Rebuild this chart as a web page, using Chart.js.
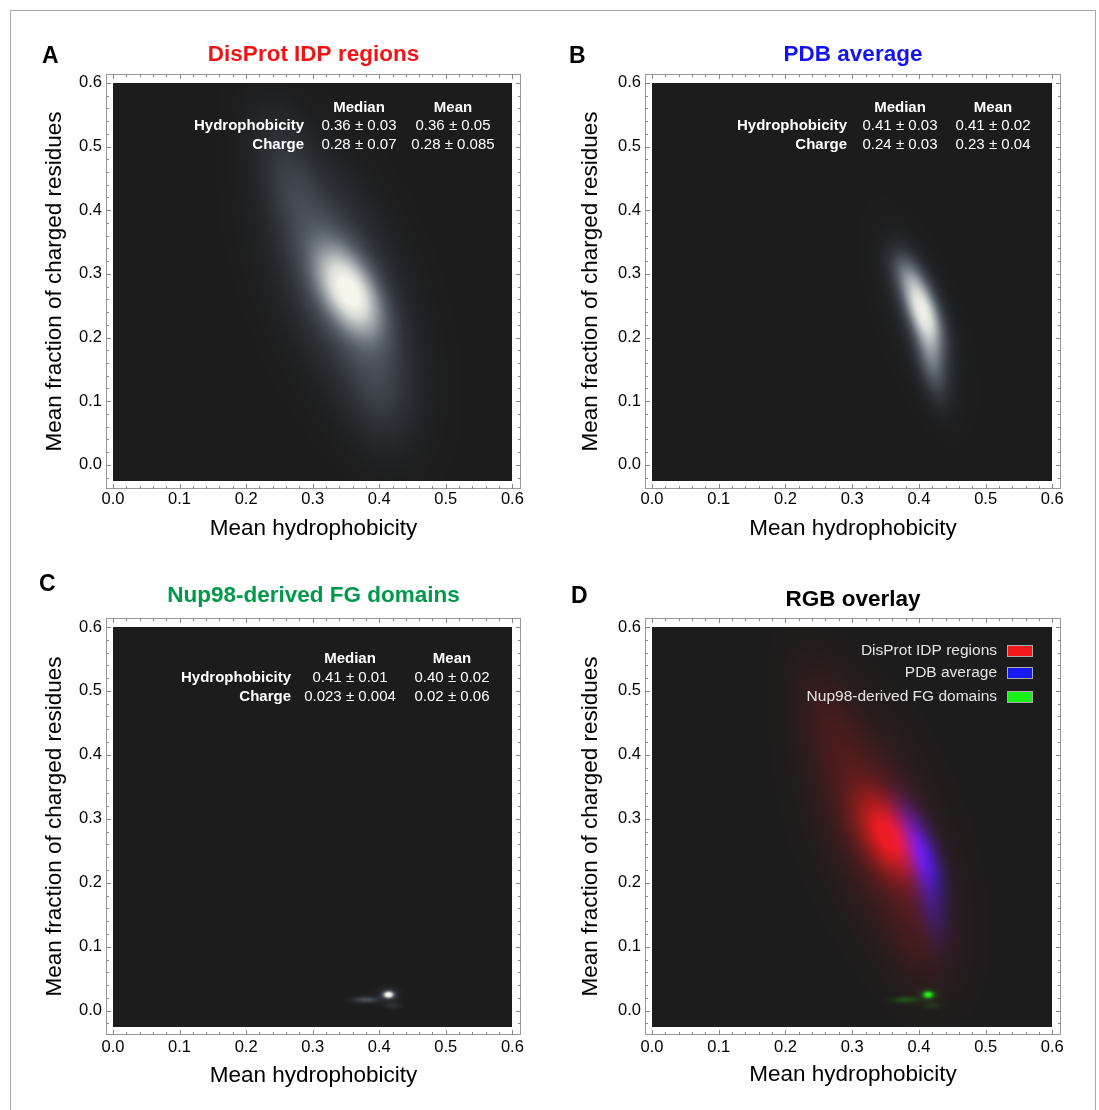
<!DOCTYPE html>
<html>
<head>
<meta charset="utf-8">
<script src="https://cdn.jsdelivr.net/npm/chart.js@4.4.0/dist/chart.umd.min.js"></script>
<style>
  body { margin: 0; background: #fff; }
  #fig { position: relative; width: 1099px; height: 1110px; overflow: hidden; }
  #border { position: absolute; left: 10px; top: 10px; width: 1084px; height: 1130px; border: 1px solid #aaa; }
  .panel { position: absolute; }
  .tag { position: absolute; font: bold 23px 'Liberation Sans', Arial, sans-serif; line-height: 23px; color: #000; }
</style>
</head>
<body>
<div id="fig">
  <div id="border"></div>
  <div class="panel" style="left:0;top:0"><canvas id="cA" width="550" height="560"></canvas></div>
  <div class="panel" style="left:550px;top:0"><canvas id="cB" width="549" height="560"></canvas></div>
  <div class="panel" style="left:0;top:560px"><canvas id="cC" width="550" height="550"></canvas></div>
  <div class="panel" style="left:550px;top:560px"><canvas id="cD" width="549" height="550"></canvas></div>
  <div class="tag" style="left:42px;top:44px">A</div>
  <div class="tag" style="left:569px;top:44px">B</div>
  <div class="tag" style="left:39px;top:572px">C</div>
  <div class="tag" style="left:571px;top:584px">D</div>
</div>
<script>
// tick labels on both axes
var xTicks = [0, 0.1, 0.2, 0.3, 0.4, 0.5, 0.6];
var yTicks = [0, 0.1, 0.2, 0.3, 0.4, 0.5, 0.6];

// density blobs: [x, y, sd x, sd y, correlation, weight]
var disprotBlobs = [
    [0.355, 0.272, 0.032, 0.045, -0.50, 0.80], // bright core
    [0.340, 0.285, 0.060, 0.110, -0.50, 0.28], // halo
    [0.265, 0.450, 0.035, 0.070, -0.50, 0.12], // upper tail
    [0.400, 0.120, 0.035, 0.060, -0.20, 0.12]  // lower tail
];
var pdbBlobs = [
    [0.405, 0.245, 0.020, 0.040, -0.60, 0.85],
    [0.418, 0.165, 0.016, 0.040, -0.50, 0.32],
    [0.378, 0.305, 0.018, 0.025, -0.40, 0.15],
    [0.400, 0.230, 0.035, 0.075, -0.60, 0.07]
];
var nupBlobs = [
    [0.414, 0.025, 0.0050, 0.0035, 0, 1.00], // bright spot
    [0.414, 0.025, 0.0100, 0.0070, 0, 0.15], // its glow
    [0.380, 0.017, 0.0130, 0.0035, 0, 0.25], // streak to the left
    [0.420, 0.008, 0.0080, 0.0035, 0, 0.12]  // faint spot below
];

// stats tables
var statCols = ['Median', 'Mean'];
var statRows = ['Hydrophobicity', 'Charge'];
var disprotStats = [['0.36 \u00b1 0.03', '0.36 \u00b1 0.05'], ['0.28 \u00b1 0.07', '0.28 \u00b1 0.085']];
var pdbStats = [['0.41 \u00b1 0.03', '0.41 \u00b1 0.02'], ['0.24 \u00b1 0.03', '0.23 \u00b1 0.04']];
var nupStats = [['0.41 \u00b1 0.01', '0.40 \u00b1 0.02'], ['0.023 \u00b1 0.004', '0.02 \u00b1 0.06']];
var seriesNames = ['DisProt IDP regions', 'PDB average', 'Nup98-derived FG domains'];

var FONT = "'Liberation Sans', Arial, Helvetica, sans-serif";
var plotX = [0, 0.6];      // extent of the density image
var plotY = [-0.025, 0.6];
var bg = [28, 28, 28];
var grayStops = [
    [0, 28, 28, 28], [0.12, 46, 50, 56], [0.32, 86, 94, 103],
    [0.55, 150, 157, 162], [0.8, 214, 217, 213], [1, 246, 245, 236]
];
var swatchColors = ['#f01818', '#1818f0', '#18f018']; // legend order: red, blue, green

function prep(b) {
    return { mx: b[0], my: b[1], sx: b[2], sy: b[3], r: b[4], w: b[5], k: 1 / (1 - b[4] * b[4]) };
}

function field(blobs, x, y) {
    var f = 0;
    for (var i = 0; i < blobs.length; i++) {
        var b = blobs[i];
        var u = (x - b.mx) / b.sx, v = (y - b.my) / b.sy;
        f += b.w * Math.exp(-0.5 * b.k * (u * u - 2 * b.r * u * v + v * v));
    }
    return f;
}

function grayMap(v) {
    v = Math.max(0, Math.min(1, v));
    for (var i = 1; i < grayStops.length; i++) {
        var a = grayStops[i - 1], b = grayStops[i];
        if (v <= b[0]) {
            var t = (v - a[0]) / (b[0] - a[0]);
            return [a[1] + t * (b[1] - a[1]), a[2] + t * (b[2] - a[2]), a[3] + t * (b[3] - a[3])];
        }
    }
    return grayStops[grayStops.length - 1].slice(1);
}

// draws the density image, the frame with inward ticks, and the text boxes
function densityPlugin(p) {
    return {
        id: 'density',
        beforeDatasetsDraw: function (chart) {
            var ctx = chart.ctx, a = chart.chartArea;
            var xs = chart.scales.x, ys = chart.scales.y;
            ctx.save();
            ctx.fillStyle = '#fff';
            ctx.fillRect(a.left, a.top, a.right - a.left, a.bottom - a.top);

            var x0 = Math.round(xs.getPixelForValue(plotX[0]));
            var x1 = Math.round(xs.getPixelForValue(plotX[1]));
            var y0 = Math.round(ys.getPixelForValue(plotY[1]));
            var y1 = Math.round(ys.getPixelForValue(plotY[0]));
            var w = x1 - x0, h = y1 - y0;
            var off = document.createElement('canvas');
            off.width = w; off.height = h;
            var octx = off.getContext('2d');
            var img = octx.createImageData(w, h);
            var sets = chart.data.datasets.map(function (ds) {
                return { blobs: ds.blobs.map(prep), channel: ds.channel };
            });
            var k = 0;
            for (var j = 0; j < h; j++) {
                var vy = ys.getValueForPixel(y0 + j + 0.5);
                for (var i = 0; i < w; i++) {
                    var vx = xs.getValueForPixel(x0 + i + 0.5);
                    var c = bg.slice();
                    sets.forEach(function (s) {
                        var v = Math.min(1, field(s.blobs, vx, vy));
                        if (s.channel < 0) c = grayMap(v);
                        else c[s.channel] += 207 * v;
                    });
                    img.data[k++] = c[0]; img.data[k++] = c[1]; img.data[k++] = c[2]; img.data[k++] = 255;
                }
            }
            octx.putImageData(img, 0, 0);
            ctx.drawImage(off, x0, y0);

            // frame
            ctx.strokeStyle = '#999';
            ctx.lineWidth = 1;
            ctx.strokeRect(a.left + 0.5, a.top + 0.5, a.right - a.left - 1, a.bottom - a.top - 1);
            ctx.strokeStyle = '#888';
            ctx.beginPath();
            for (var n = 0; n <= 30; n++) {
                var len = n % 5 === 0 ? 5 : 3;
                var px = Math.round(xs.getPixelForValue(n * 0.02)) + 0.5;
                ctx.moveTo(px, a.bottom); ctx.lineTo(px, a.bottom - len);
                ctx.moveTo(px, a.top); ctx.lineTo(px, a.top + len);
            }
            for (var m = -1; m <= 30; m++) {
                var len2 = m % 5 === 0 ? 5 : 3;
                var py = Math.round(ys.getPixelForValue(m * 0.02)) + 0.5;
                ctx.moveTo(a.left, py); ctx.lineTo(a.left + len2, py);
                ctx.moveTo(a.right, py); ctx.lineTo(a.right - len2, py);
            }
            ctx.stroke();
            ctx.restore();
        },
        afterDraw: function (chart) {
            var ctx = chart.ctx, a = chart.chartArea;
            ctx.save();
            ctx.textBaseline = 'middle';
            if (p.stats) {
                var t = p.table;
                ctx.fillStyle = '#fff';
                ctx.font = 'bold 15px ' + FONT;
                ctx.textAlign = 'center';
                statCols.forEach(function (c, i) {
                    ctx.fillText(c, a.left + t.cols[i], a.top + t.rows[0]);
                });
                statRows.forEach(function (r, j) {
                    ctx.font = 'bold 15px ' + FONT;
                    ctx.textAlign = 'right';
                    ctx.fillText(r, a.left + t.label, a.top + t.rows[j + 1]);
                    ctx.font = '15px ' + FONT;
                    ctx.textAlign = 'center';
                    p.stats[j].forEach(function (s, i) {
                        ctx.fillText(s, a.left + t.cols[i], a.top + t.rows[j + 1]);
                    });
                });
            }
            if (p.legend) {
                var L = p.legend;
                ctx.font = '15.5px ' + FONT;
                ctx.textAlign = 'right';
                seriesNames.forEach(function (name, i) {
                    var yy = a.top + L.rows[i];
                    ctx.fillStyle = '#e4e4e4';
                    ctx.fillText(name, a.left + L.text, yy);
                    ctx.fillStyle = swatchColors[i];
                    ctx.fillRect(a.left + L.box[0], yy - L.box[2] / 2, L.box[1], L.box[2]);
                    ctx.strokeStyle = '#aaa';
                    ctx.strokeRect(a.left + L.box[0] + 0.5, yy - L.box[2] / 2 + 0.5, L.box[1] - 1, L.box[2] - 1);
                });
            }
            ctx.restore();
        }
    };
}

// frame boxes are in canvas pixels: [left, top, right, bottom]
var panels = [
    { id: 'cA', W: 550, H: 560, frame: [106, 74, 521, 489], title: 'DisProt IDP regions', titleColor: '#f01414',
      titleY: 55, yTitleX: 54.7, xTitleY: 529, xPad: 1,
      sets: [{ blobs: disprotBlobs, channel: -1 }], stats: disprotStats,
      table: { label: 198, cols: [253, 347], rows: [34, 52, 71] } },
    { id: 'cB', W: 549, H: 560, frame: [95, 74, 511, 489], title: 'PDB average', titleColor: '#1414f0',
      titleY: 55, yTitleX: 40.5, xTitleY: 529, xPad: 1,
      sets: [{ blobs: pdbBlobs, channel: -1 }], stats: pdbStats,
      table: { label: 202, cols: [255, 348], rows: [34, 52, 71] } },
    { id: 'cC', W: 550, H: 550, frame: [106, 58, 521, 475], title: 'Nup98-derived FG domains', titleColor: '#00994a',
      titleY: 36, yTitleX: 54.7, xTitleY: 516, xPad: 3,
      sets: [{ blobs: nupBlobs, channel: -1 }], stats: nupStats,
      table: { label: 185, cols: [244, 346], rows: [41, 60, 79] } },
    { id: 'cD', W: 549, H: 550, frame: [95, 58, 511, 475], title: 'RGB overlay', titleColor: '#000',
      titleY: 39.4, yTitleX: 40.5, xTitleY: 515, xPad: 3,
      sets: [{ blobs: disprotBlobs, channel: 0 }, { blobs: pdbBlobs, channel: 2 }, { blobs: nupBlobs, channel: 1 }],
      legend: { text: 352, box: [362, 26, 12], rows: [33, 55, 79] } }
];

var padL = 10;

panels.forEach(function (p) {
    new Chart(document.getElementById(p.id), {
        type: 'scatter',
        data: {
            datasets: p.sets.map(function (s) {
                return {
                    data: s.blobs.map(function (b) { return { x: b[0], y: b[1] }; }),
                    blobs: s.blobs,
                    channel: s.channel,
                    pointRadius: 0
                };
            })
        },
        options: {
            responsive: false,
            animation: false,
            events: [],
            layout: { padding: { left: padL, right: p.W - p.frame[2], top: 0, bottom: 0 } },
            plugins: {
                legend: { display: false },
                tooltip: { enabled: false },
                title: {
                    display: true,
                    fullSize: false,
                    text: p.title,
                    color: p.titleColor,
                    font: { family: FONT, size: 22.5, weight: 'bold', lineHeight: 1.2 },
                    padding: { top: p.titleY - 13.5, bottom: p.frame[1] - p.titleY - 13.5 }
                }
            },
            scales: {
                x: {
                    type: 'linear',
                    min: -0.0105,
                    max: 0.613,
                    afterBuildTicks: function (s) { s.ticks = xTicks.map(function (v) { return { value: v }; }); },
                    afterFit: function (s) { s.height = p.H - p.frame[3]; },
                    grid: { display: false, drawTicks: false },
                    border: { display: false },
                    ticks: {
                        padding: p.xPad, color: '#000', maxRotation: 0, autoSkip: false,
                        font: { family: FONT, size: 16.5 },
                        callback: function (v) { return Number(v).toFixed(1); }
                    },
                    title: {
                        display: true, text: 'Mean hydrophobicity', color: '#000',
                        font: { family: FONT, size: 22.5, lineHeight: 1.2 },
                        padding: { top: 0, bottom: p.H - p.xTitleY - 13.5 }
                    }
                },
                y: {
                    type: 'linear',
                    min: -0.038,
                    max: 0.614,
                    afterBuildTicks: function (s) { s.ticks = yTicks.map(function (v) { return { value: v }; }); },
                    afterFit: function (s) { s.width = p.frame[0] - padL; },
                    grid: { display: false, drawTicks: false },
                    border: { display: false },
                    ticks: {
                        padding: 4, color: '#000', autoSkip: false,
                        font: { family: FONT, size: 16.5 },
                        callback: function (v) { return Number(v).toFixed(1); }
                    },
                    title: {
                        display: true, text: 'Mean fraction of charged residues', color: '#000',
                        font: { family: FONT, size: 22.5, lineHeight: 1.2 },
                        padding: { top: p.yTitleX - padL - 13.5, bottom: 0 }
                    }
                }
            }
        },
        plugins: [densityPlugin(p)]
    });
});
</script>
</body>
</html>
